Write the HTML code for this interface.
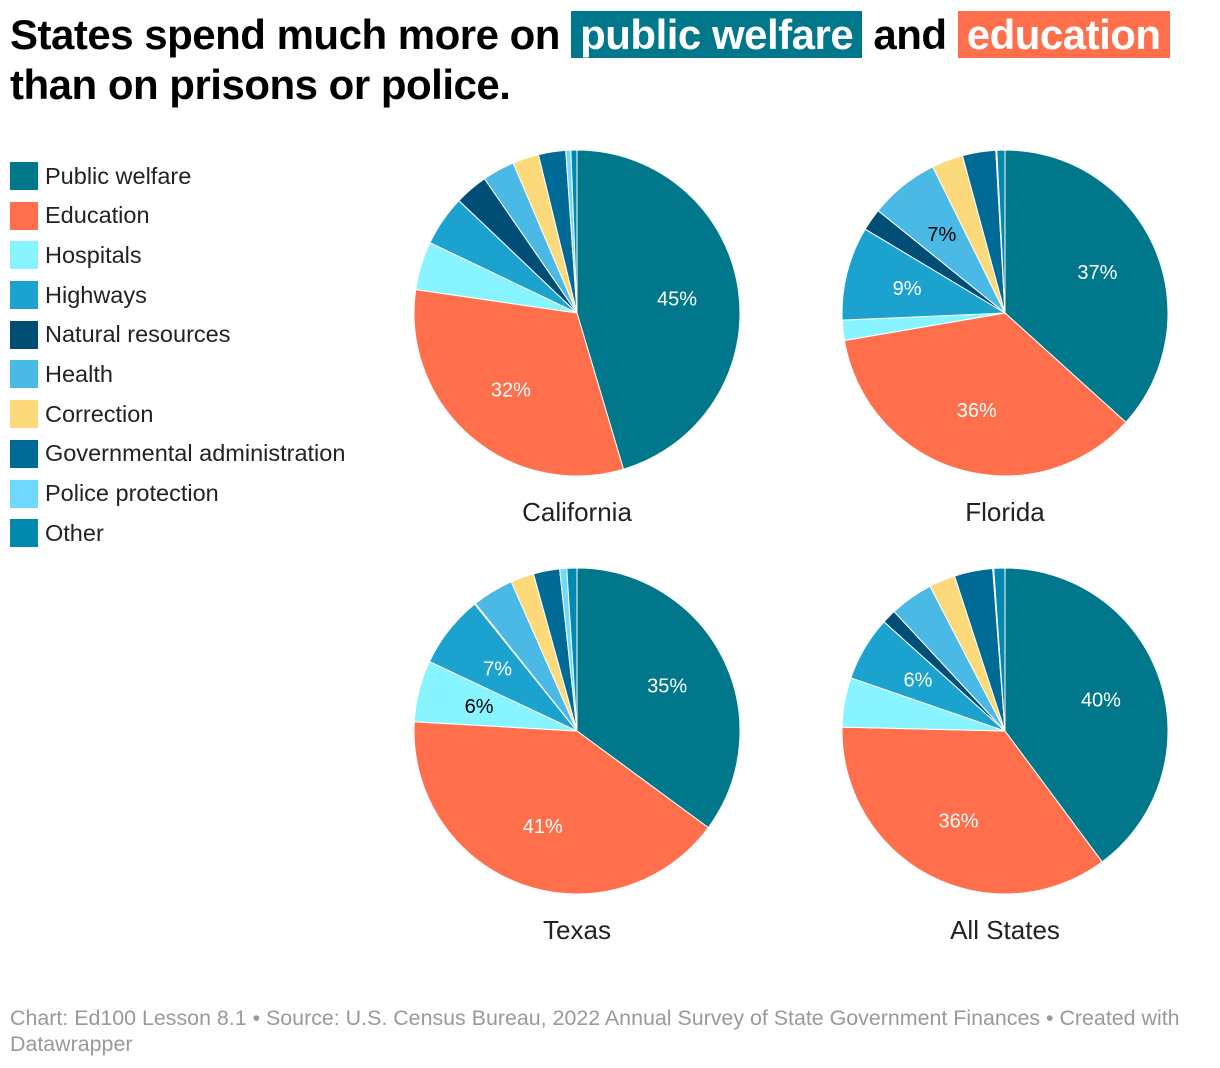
<!DOCTYPE html>
<html><head><meta charset="utf-8">
<style>
body{margin:0;background:#fff;font-family:"Liberation Sans",Arial,sans-serif;color:#000;width:1220px;height:1068px;overflow:hidden;position:relative}
#title{position:absolute;left:10px;top:10px;font-size:42px;font-weight:bold;line-height:50px;letter-spacing:-0.5px}
.hl{color:#fff;padding:0 9px}
#legend{position:absolute;left:10px;top:162px}
.li{display:flex;align-items:center;height:28px;margin-bottom:11.7px;font-size:23.5px;color:#222}
.sw{width:28px;height:28px;margin-right:7px}
#footer{position:absolute;left:10px;top:1005px;font-size:21.4px;color:#999;line-height:26px;width:1200px}
svg{position:absolute;left:0;top:0}
</style></head><body>
<div id="title">States spend much more on <span class="hl" style="background:#00778b">public welfare</span> and <span class="hl" style="background:#ff6f4b">education</span><br>than on prisons or police.</div>
<div id="legend"></div>
<svg id="chart" width="1220" height="1068"></svg>
<div id="footer">Chart: Ed100 Lesson 8.1 • Source: U.S. Census Bureau, 2022 Annual Survey of State Government Finances • Created with Datawrapper</div>
<script>
const categories=["Public welfare","Education","Hospitals","Highways","Natural resources","Health","Correction","Governmental administration","Police protection","Other"];
const colors=["#00778b","#ff6f4b","#88f4ff","#1ba2cf","#004e75","#4ab9e6","#fcd97a","#006a96","#6ed8fe","#0088af"];
const darkText=[false,false,true,false,false,true,true,false,true,false];
const stateNames=["California","Florida","Texas","All States"];
const california=[45.4,31.9,4.8,5.0,3.3,3.2,2.6,2.7,0.5,0.6];
const florida=[36.7,35.6,2.0,9.3,2.2,6.9,3.1,3.3,0.1,0.8];
const texas=[35.1,40.8,6.1,7.2,0.1,4.1,2.3,2.6,0.7,1.0];
const allStates=[39.8,35.5,4.9,6.4,1.4,4.3,2.6,3.8,0.1,1.1];
const series=[california,florida,texas,allStates];
const centers=[[577,313],[1005,313],[577,731],[1005,731]];
const R=163;
const NS="http://www.w3.org/2000/svg";
const svg=document.getElementById('chart');
const leg=document.getElementById('legend');
categories.forEach((c,i)=>{
  const d=document.createElement('div');d.className='li';
  
  
  d.innerHTML='<div class="sw" style="background:'+colors[i]+'"></div>'+c;
  leg.appendChild(d);
});
function pt(cx,cy,r,frac){const a=frac*2*Math.PI;return [cx+r*Math.sin(a),cy-r*Math.cos(a)];}
series.forEach((vals,s)=>{
  const [cx,cy]=centers[s];
  const total=vals.reduce((a,b)=>a+b,0);
  let cum=0;
  vals.forEach((v,i)=>{
    const f0=cum/total,f1=(cum+v)/total;cum+=v;
    const p0=pt(cx,cy,R,f0),p1=pt(cx,cy,R,f1);
    const large=(f1-f0)>0.5?1:0;
    const path=document.createElementNS(NS,'path');
    path.setAttribute('d',`M${cx},${cy}L${p0[0]},${p0[1]}A${R},${R} 0 ${large} 1 ${p1[0]},${p1[1]}Z`);
    path.setAttribute('fill',colors[i]);path.setAttribute('stroke','#fff');path.setAttribute('stroke-width','1');
    
    
    svg.appendChild(path);
    if(v/total>=0.055){
      const m=pt(cx,cy,R*0.62,(f0+f1)/2);
      const t=document.createElementNS(NS,'text');
      t.setAttribute('x',m[0]);t.setAttribute('y',m[1]+7);t.setAttribute('text-anchor','middle');
      t.setAttribute('font-size','20');t.setAttribute('fill',darkText[i]?'#000':'#fff');
      t.textContent=Math.round(v)+'%';
      
      
      svg.appendChild(t);
    }
  });
  const lab=document.createElementNS(NS,'text');
  lab.setAttribute('x',cx);lab.setAttribute('y',cy+208);lab.setAttribute('text-anchor','middle');
  lab.setAttribute('font-size','26');lab.setAttribute('fill','#222');
  lab.textContent=stateNames[s];
  
  
  svg.appendChild(lab);
});
</script>
</body></html>
